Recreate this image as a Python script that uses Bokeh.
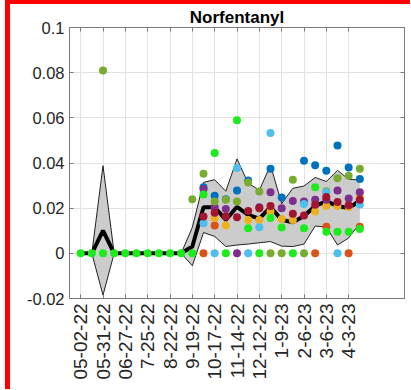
import numpy as np
from bokeh.plotting import figure
from bokeh.models import Range1d, FixedTicker, LinearAxis
from bokeh.embed import file_html
from bokeh.resources import INLINE

nan = np.nan

# sample index (1..26), biweekly samples
sample_idx = list(range(1, 27))
tick_idx = [1, 3, 5, 7, 9, 11, 13, 15, 17, 19, 21, 23, 25]
tick_labels = ["05-02-22", "05-31-22", "06-27-22", "7-25-22", "8-22-22", "9-19-22",
               "10-17-22", "11-14-22", "12-12-22", "1-9-23", "2-6-23", "3-6-23", "4-3-23"]
y_ticks = [-0.02, 0, 0.02, 0.04, 0.06, 0.08, 0.1]
y_tick_labels = ["-0.02", "0", "0.02", "0.04", "0.06", "0.08", "0.1"]

mean_vals = [0, 0, 0.0101, 0, 0, 0, 0, 0, 0, 0, 0.003,
             0.0204, 0.0204, 0.0148, 0.0206, 0.017, 0.0154, 0.0205, 0.0148, 0.0138,
             0.0165, 0.021, 0.023, 0.021, 0.020, 0.0233]
upper_vals = [0, 0, 0.0388, 0, 0, 0, 0, 0, 0, 0, 0.0115,
              0.0314, 0.0326, 0.0275, 0.0418, 0.031, 0.028, 0.039, 0.022, 0.0288,
              0.0298, 0.0336, 0.0318, 0.0367, 0.0328, 0.0325]
lower_vals = [0, 0, -0.0185, 0, 0, 0, 0, 0, 0, 0, -0.0055,
              0.0092, 0.0075, 0.003, 0.0037, 0.0041, 0.0047, 0.0052, 0.0032, 0.003,
              0.0041, 0.0121, 0.0116, 0.0037, 0.0068, 0.0134]

site_blue = [nan] * 11 + [0.0293, 0.0255, 0.024, 0.0278, 0.0323, nan, 0.0375, 0.0247, nan,
                          0.041, 0.039, 0.0366, 0.0477, 0.038, 0.0329]
site_orange = [nan] * 11 + [0, 0.0123, nan, nan, nan, nan, nan, nan, nan,
                            nan, 0, 0.0118, nan, 0, 0.0118]
site_yellow = [nan] * 11 + [nan, 0.0156, 0.0123, nan, 0.0148, 0.0148, 0.0185, 0.0152, 0.0148,
                            nan, 0.0185, 0.021, 0.021, 0.0205, 0.0249]
site_purple = [nan] * 11 + [0.0284, 0.0204, 0.0196, 0, nan, 0.0204, 0.0271, 0.020, 0.0232,
                            0.023, 0.0237, 0.0237, 0.0278, 0.0243, 0.0271]
site_olive = [nan, nan, 0.081, nan, nan, nan, nan, nan, nan, nan, 0.024,
              0.0352, 0.023, 0.0237, 0.0229, 0.0314, 0.0274, 0, 0, 0.0326,
              0, nan, 0.0275, 0.0333, 0.0344, 0.0375]
site_lightblue = [nan] * 11 + [0.0133, 0, nan, 0.0378, 0, 0.0116, 0.0533, nan, nan,
                               0.0219, nan, 0.027, 0, nan, 0.0216]
site_darkred = [nan] * 11 + [0.0163, 0.018, 0.0163, 0.016, 0.0188, 0.020, 0.021, nan, 0.0175,
                             0.0167, 0.0215, 0.0249, 0.0227, 0.0213, 0.0237]
site_green = [0] * 11 + [0.026, 0.0444, 0, 0.0589, 0.0111, 0, 0.0156, 0.0114, 0,
                         0.0111, 0.0293, 0.0096, 0.0096, 0.0096, 0.0108]

series = [
    (site_blue, "#0072BD"),
    (site_orange, "#D95319"),
    (site_yellow, "#EDB120"),
    (site_purple, "#7E2F8E"),
    (site_olive, "#77AC30"),
    (site_lightblue, "#4DBEEE"),
    (site_darkred, "#A2142F"),
    (site_green, "#1CEB1C"),
]

FONT = "Liberation Sans"
AX = "#7a7a7a"
TXT = "#262626"

p = figure(width=405, height=389, output_backend="svg", toolbar_location=None,
           x_range=Range1d(0, 30), y_range=Range1d(-0.02, 0.1),
           min_border_left=59, min_border_right=11, min_border_top=20, min_border_bottom=95,
           title="Norfentanyl")
p.styles = {"border-left": "5px solid #ff0000", "border-top": "4px solid #ff0000",
            "margin-left": "5px", "margin-top": "0px", "box-sizing": "border-box"}
p.background_fill_color = "white"
p.border_fill_color = "white"
p.outline_line_color = AX
p.outline_line_width = 1

p.title.text_font = FONT
p.title.text_font_size = "17px"
p.title.text_font_style = "bold"
p.title.text_color = "black"
p.title.align = "center"
p.title.standoff = 2

xt = FixedTicker(ticks=tick_idx)
yt = FixedTicker(ticks=y_ticks)

p.xaxis.ticker = xt
p.xaxis.major_label_overrides = {t: l for t, l in zip(tick_idx, tick_labels)}
p.xaxis.major_label_orientation = np.pi / 2
p.yaxis.ticker = yt
p.yaxis.major_label_overrides = {t: l for t, l in zip(y_ticks, y_tick_labels)}

for ax in (p.xaxis[0], p.yaxis[0]):
    ax.axis_line_color = AX
    ax.major_tick_line_color = AX
    ax.major_tick_in = 4
    ax.major_tick_out = 0
    ax.minor_tick_line_color = None
    ax.major_label_text_font = FONT
    ax.major_label_text_color = TXT
    ax.major_label_standoff = 5
p.xaxis.major_label_text_font_size = "19px"
p.yaxis.major_label_text_font_size = "16.5px"

# mirror ticks on right and top (no labels)
r_ax = LinearAxis(ticker=yt, major_label_text_color=None, major_label_text_font_size="1px",
                  major_label_standoff=0, major_tick_in=4, major_tick_out=0, axis_line_color=AX,
                  major_tick_line_color=AX, minor_tick_line_color=None)
p.add_layout(r_ax, "right")
t_ax = LinearAxis(ticker=xt, major_label_text_color=None, major_label_text_font_size="1px",
                  major_label_standoff=0, major_tick_in=4, major_tick_out=0, axis_line_color=AX,
                  major_tick_line_color=AX, minor_tick_line_color=None)
p.add_layout(t_ax, "above")

p.xgrid.ticker = xt
p.ygrid.ticker = yt
p.grid.grid_line_color = "#e2e2e2"
p.grid.grid_line_width = 1

# band (mean +/- sd)
p.varea(x=sample_idx, y1=lower_vals, y2=upper_vals, fill_color="#cccccc")
p.line(sample_idx, upper_vals, line_color="#222222", line_width=1)
p.line(sample_idx, lower_vals, line_color="#222222", line_width=1)
p.line(sample_idx, mean_vals, line_color="black", line_width=4)

for vals, col in series:
    p.scatter(sample_idx, vals, size=8, fill_color=col, line_color=None)

open("out.html", "w").write(file_html(p, INLINE))
